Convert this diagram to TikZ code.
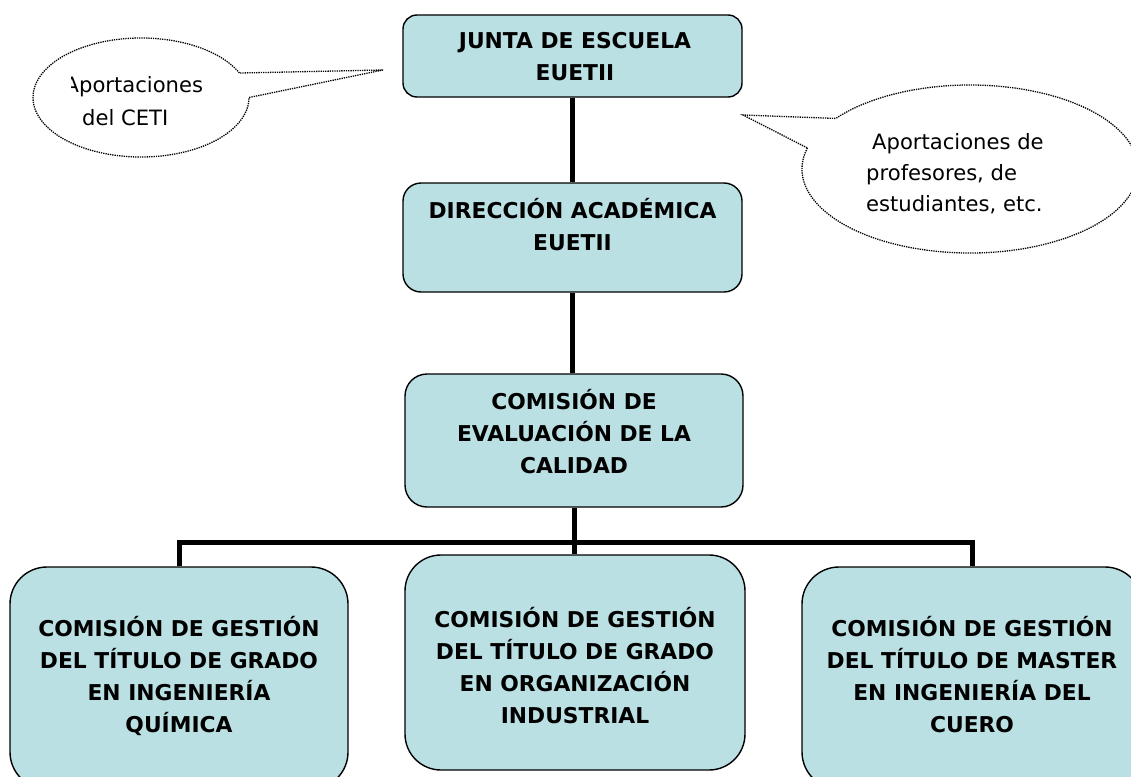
\documentclass[tikz,border=0pt]{standalone}
\usepackage{fontspec}
\setmainfont{DejaVu Sans}
\definecolor{cajaazul}{RGB}{186,224,227}

\begin{document}
\begin{tikzpicture}[x=1pt, y=1pt,
  caja/.style={draw=black, line width=1.4pt, fill=cajaazul, rounded corners=#1, inner sep=0pt},
  texto/.style={font=\bfseries\fontsize{21.8}{32}\selectfont, align=center, inner sep=0pt,
    execute at begin node=\strut, execute at end node=\strut},
  linea/.style={line width=5pt},
  globo/.style={densely dotted, line width=1.3pt}]
\useasboundingbox (0,0) rectangle (1131,-776);

\node[caja=14pt, minimum width=339pt, minimum height=82pt] (junta) at (572.5,-56) {};
\node[caja=18pt, minimum width=339pt, minimum height=109pt] (direccion) at (572.5,-237.5) {};
\node[caja=22pt, minimum width=338pt, minimum height=133pt] (evaluacion) at (574,-440.5) {};
\node[caja=37pt, minimum width=338pt, minimum height=222pt] (quimica) at (179,-678) {};
\node[caja=36pt, minimum width=340pt, minimum height=215pt] (organizacion) at (575,-662.5) {};
\node[caja=37pt, minimum width=340pt, minimum height=222pt] (cuero) at (972,-678) {};
\coordinate (barra) at (574,-542);

\draw[linea] (junta.south) -- (junta.south |- direccion.north);
\draw[linea] (direccion.south) -- (direccion.south |- evaluacion.north);
\draw[linea] (evaluacion.south) -- (evaluacion.south |- organizacion.north);
\draw[linea] (quimica.north) |- (barra) -| (cuero.north);

\node[texto] (junta-t) at (575,-61.6) {JUNTA DE ESCUELA\\EUETII};
\node[texto] (direccion-t) at (572.5,-229.6) {DIRECCIÓN ACADÉMICA\\EUETII};
\node[texto] (evaluacion-t) at (574,-436.6) {COMISIÓN DE\\EVALUACIÓN DE LA\\CALIDAD};
\node[texto] (quimica-t) at (179,-679.6) {COMISIÓN DE GESTIÓN\\DEL TÍTULO DE GRADO\\EN INGENIERÍA\\QUÍMICA};
\node[texto] (organizacion-t) at (575,-670.6) {COMISIÓN DE GESTIÓN\\DEL TÍTULO DE GRADO\\EN ORGANIZACIÓN\\INDUSTRIAL};
\node[texto] (cuero-t) at (972,-679.6) {COMISIÓN DE GESTIÓN\\DEL TÍTULO DE MASTER\\EN INGENIERÍA DEL\\CUERO};

\draw[globo] (141,-97.5) ++(24.3:108pt and 59.5pt)
  arc[start angle=24.3, end angle=360, x radius=108pt, y radius=59.5pt] -- (383,-70) -- cycle;
\draw[globo] (970,-169) ++(165.5:168pt and 84pt)
  arc[start angle=165.5, end angle=503, x radius=168pt, y radius=84pt] -- (743,-115) -- cycle;

\begin{scope}
\clip (71.5,0) rectangle (400,-200);
\node[anchor=west, align=left, inner sep=0pt, font=\fontsize{21.1}{33}\selectfont,
  execute at begin node=\strut, execute at end node=\strut] (ceti) at (64.5,-105.9)
  {Aportaciones\\\hspace*{17.5pt}del CETI};
\end{scope}
\node[anchor=west, align=left, inner sep=0pt, font=\fontsize{21.1}{31}\selectfont,
  execute at begin node=\strut, execute at end node=\strut] (profesores) at (866,-176.8)
  {\hspace*{6pt}Aportaciones de\\profesores, de\\estudiantes, etc.};
\end{tikzpicture}
\end{document}
